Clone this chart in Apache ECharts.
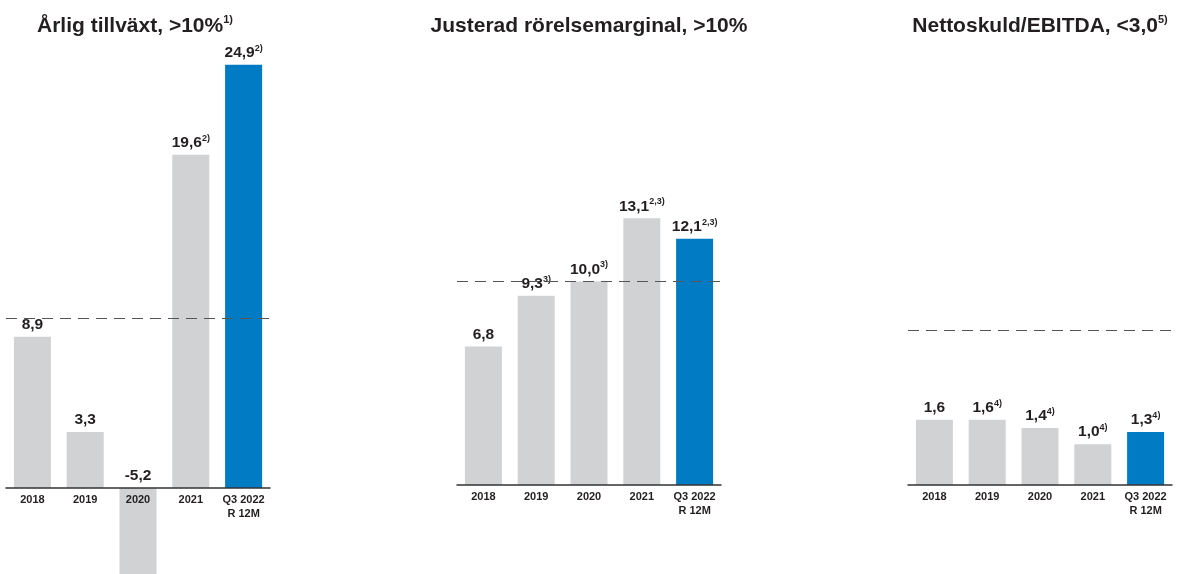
<!DOCTYPE html>
<html>
<head>
<meta charset="utf-8">
<script src="https://cdn.jsdelivr.net/npm/echarts@6/dist/echarts.min.js"></script>
<style>
html,body{margin:0;padding:0;background:#fff;}
#c{width:1184px;height:574px;}
</style>
</head>
<body>
<div id="c"></div>
<script>
const categories = ['2018', '2019', '2020', '2021', 'Q3 2022\nR 12M'];
const growthValues = [8.9, 3.3, -5.2, 19.6, 24.9];
const growthNotes = ['', '', '', '2)', '2)'];
const marginValues = [6.8, 9.3, 10.0, 13.1, 12.1];
const marginNotes = ['', '3)', '3)', '2,3)', '2,3)'];
const debtValues = [1.6, 1.6, 1.4, 1.0, 1.3];
const debtNotes = ['', '4)', '4)', '4)', '4)'];
const growthTarget = 10;
const marginTarget = 10;
const debtTargetDrawn = 3.8; // dashed line as drawn (not to scale) for target <3,0
const titles = [
  ['Årlig tillväxt, >10%', '1)'],
  ['Justerad rörelsemarginal, >10%', ''],
  ['Nettoskuld/EBITDA, <3,0', '5)']
];

const GREY = '#d1d2d4', BLUE = '#007bc4', TXT = '#231f20';
const fmt = v => v.toFixed(1).replace('.', ',');

const rich = {
  v: {fontFamily: 'Liberation Sans', fontWeight: 'bold', fontSize: 15.5, color: TXT, lineHeight: 18},
  s: {fontFamily: 'Liberation Sans', fontWeight: 'bold', fontSize: 9, color: TXT, lineHeight: 18, verticalAlign: 'top'}
};

function mkData(vals, notes) {
  return vals.map((v, i) => ({
    value: v,
    note: notes[i],
    itemStyle: {color: i === vals.length - 1 ? BLUE : GREY}
  }));
}

const grids = [
  {left: 6, width: 264, top: 46, height: 442, outerBoundsMode: 'none', containLabel: false},
  {left: 457, width: 264, top: 200, height: 285, outerBoundsMode: 'none', containLabel: false},
  {left: 908, width: 264, top: 321.8, height: 163.2, outerBoundsMode: 'none', containLabel: false}
];
const yRanges = [[0, 26], [0, 14], [0, 4]];
const datasets = [
  [growthValues, growthNotes, growthTarget],
  [marginValues, marginNotes, marginTarget],
  [debtValues, debtNotes, debtTargetDrawn]
];
const titleX = [130, 584, 1035];

const option = {
  animation: false,
  backgroundColor: '#fff',
  title: titles.map((t, i) => ({
    text: '{t|' + t[0] + '}' + (t[1] ? '{s|' + t[1] + '}' : ''),
    left: titleX[i],
    top: 9,
    textAlign: 'center',
    textStyle: {
      rich: {
        t: {fontFamily: 'Liberation Sans', fontWeight: 'bold', fontSize: 21, color: TXT, lineHeight: 24},
        s: {fontFamily: 'Liberation Sans', fontWeight: 'bold', fontSize: 11, color: TXT, lineHeight: 24, verticalAlign: 'top'}
      }
    }
  })),
  grid: grids,
  xAxis: grids.map((g, i) => ({
    type: 'category',
    gridIndex: i,
    data: categories,
    z: 5,
    axisTick: {show: false},
    axisLine: {lineStyle: {color: '#333', width: 1.5}},
    axisLabel: {
      interval: 0, margin: 5,
      fontFamily: 'Liberation Sans', fontWeight: 'bold', fontSize: 11, color: TXT, lineHeight: 14
    }
  })),
  yAxis: grids.map((g, i) => ({
    type: 'value', gridIndex: i, min: yRanges[i][0], max: yRanges[i][1],
    show: false, splitLine: {show: false}
  })),
  series: datasets.map((d, i) => ({
    type: 'bar',
    xAxisIndex: i, yAxisIndex: i,
    barWidth: 37,
    clip: false,
    data: mkData(d[0], d[1]),
    label: {
      show: true, position: 'top', distance: 3,
      formatter: p => '{v|' + fmt(p.value) + '}' + (p.data.note ? '{s|' + p.data.note + '}' : ''),
      rich: rich
    },
    markLine: {
      silent: true, symbol: 'none', label: {show: false},
      lineStyle: {color: '#555', type: [11, 7], width: 1},
      data: [{yAxis: d[2]}],
      z: 4
    }
  }))
};

const chart = echarts.init(document.getElementById('c'), null, {renderer: 'canvas'});
chart.setOption(option);
</script>
</body>
</html>
